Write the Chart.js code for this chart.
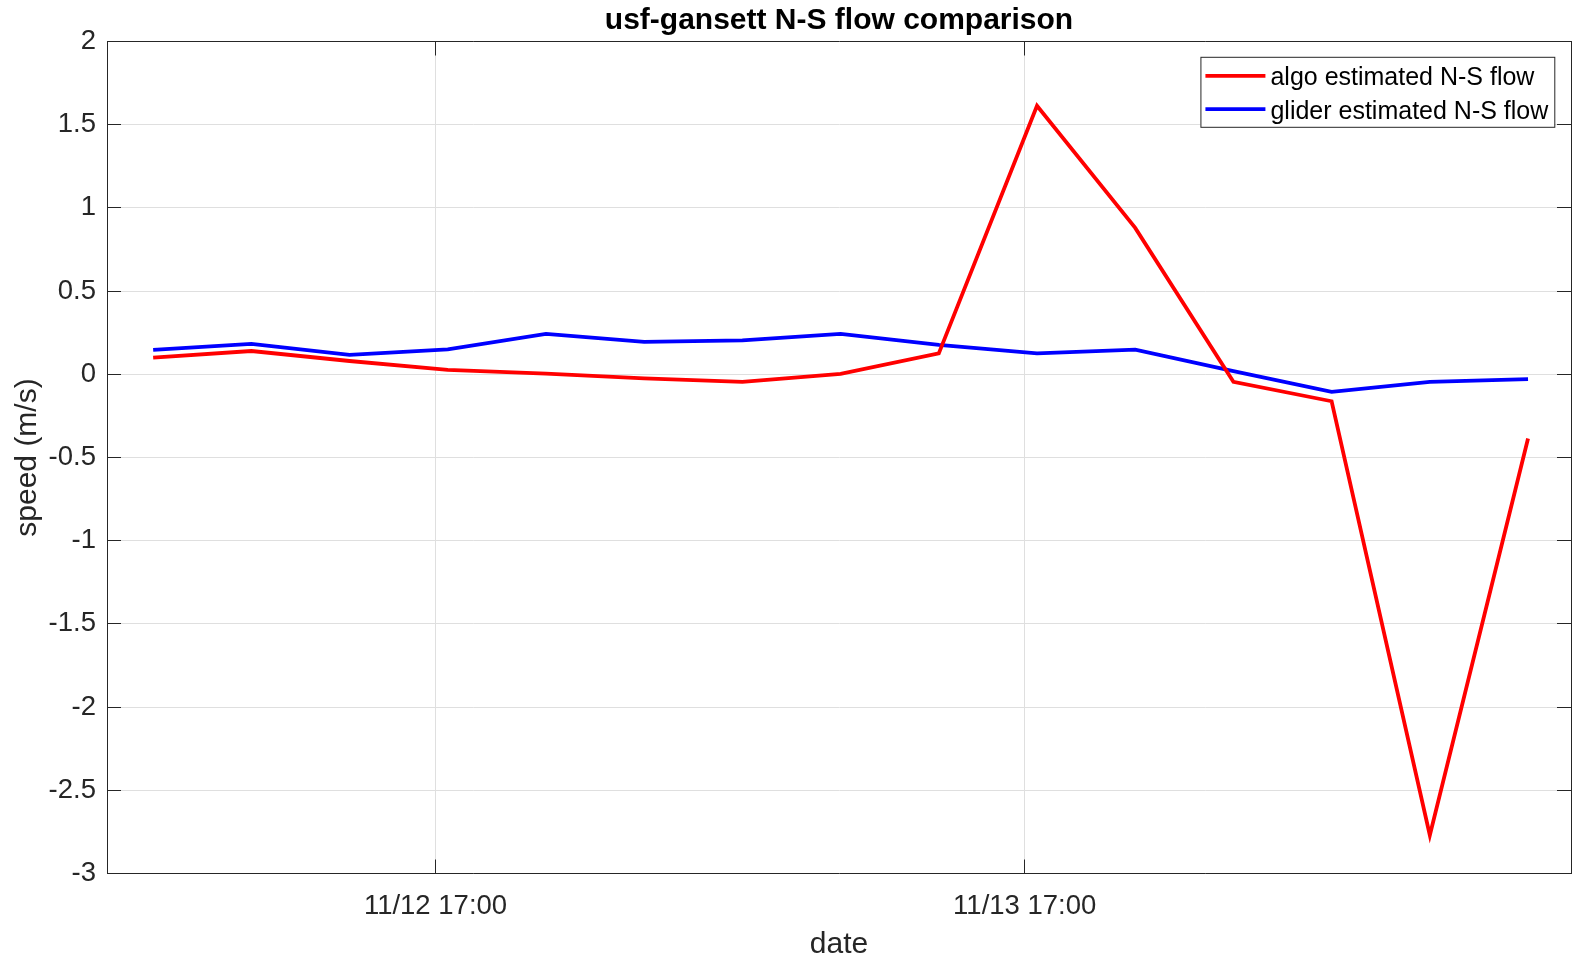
<!DOCTYPE html>
<html>
<head>
<meta charset="utf-8">
<script src="https://cdn.jsdelivr.net/npm/chart.js@4.4.1/dist/chart.umd.min.js"></script>
<style>
    html, body { margin: 0; padding: 0; background: #ffffff; }
    #plot-pane { width: 1586px; height: 963px; }
</style>
</head>
<body>
<div id="plot-pane"><canvas id="plot-canvas"></canvas></div>
<script>
"use strict";

// sample times (4 h apart)
const sampleTimes = ['11/12 05:30', '11/12 09:30', '11/12 13:30', '11/12 17:30', '11/12 21:30',
    '11/13 01:30', '11/13 05:30', '11/13 09:30', '11/13 13:30', '11/13 17:30',
    '11/13 21:30', '11/14 01:30', '11/14 05:30', '11/14 09:30', '11/14 13:30'];
const algoNS = [0.10, 0.14, 0.08, 0.026, 0.004, -0.024, -0.046, 0.002, 0.126, 1.614,
    0.88, -0.045, -0.162, -2.77, -0.386];
const gliderNS = [0.147, 0.183, 0.117, 0.150, 0.243, 0.195, 0.204, 0.243, 0.177, 0.126,
    0.148, 0.019, -0.106, -0.045, -0.029];
const seriesNames = ['algo estimated N-S flow', 'glider estimated N-S flow'];
const xTickLabels = ['11/12 17:00', '11/13 17:00'];
const yTicks = [-3, -2.5, -2, -1.5, -1, -0.5, 0, 0.5, 1, 1.5, 2];

// hours since 11/12 00:00
function toHours(s) {
    let parts = s.split(' ');
    let day = parseInt(parts[0].split('/')[1]);
    let hm = parts[1].split(':');
    return (day - 12) * 24 + parseInt(hm[0]) + parseInt(hm[1]) / 60;
}

const sampleHours = sampleTimes.map(toHours);
const xTickHours = xTickLabels.map(toHours);
const xMin = 3.62;
const xMax = 63.25;

const fontFamily = '"Liberation Sans", Arial, sans-serif';
const axisColor = '#262626';
const gridColor = '#dfdfdf';

// MATLAB-style legend box inside the axes
const boxLegend = {
    id: 'boxLegend',
    afterDraw(chart) {
        const ctx = chart.ctx;
        const area = chart.chartArea;
        ctx.save();
        ctx.font = '25px ' + fontFamily;
        let textW = 0;
        chart.data.datasets.forEach(ds => {
            textW = Math.max(textW, ctx.measureText(ds.label).width);
        });
        const w = 5 + 60 + 5 + textW + 6;
        const h = 70;
        const x0 = area.right - 16.7 - w;
        const y0 = area.top + 15.3;
        ctx.fillStyle = '#ffffff';
        ctx.fillRect(x0, y0, w, h);
        ctx.strokeStyle = axisColor;
        ctx.lineWidth = 1;
        ctx.strokeRect(x0 + 0.5, y0 + 0.5, w, h);
        chart.data.datasets.forEach((ds, i) => {
            const yc = y0 + 19 + i * 33.4;
            ctx.strokeStyle = ds.borderColor;
            ctx.lineWidth = ds.borderWidth;
            ctx.beginPath();
            ctx.moveTo(x0 + 5, yc);
            ctx.lineTo(x0 + 65, yc);
            ctx.stroke();
            ctx.fillStyle = '#000000';
            ctx.textBaseline = 'middle';
            ctx.textAlign = 'left';
            ctx.fillText(ds.label, x0 + 70, yc + 2.5);
        });
        ctx.restore();
    }
};

function setXTicks(scale) {
    scale.ticks = xTickHours.map(v => ({ value: v }));
}

function setYTicks(scale) {
    scale.ticks = yTicks.map(v => ({ value: v }));
}

const plotCanvas = document.getElementById('plot-canvas');
const chart = new Chart(plotCanvas, {
    type: 'line',
    data: {
        datasets: [{
            label: seriesNames[0],
            data: sampleHours.map((h, i) => ({ x: h, y: algoNS[i] })),
            borderColor: '#ff0000',
            backgroundColor: '#ff0000',
            borderWidth: 3.8,
            pointRadius: 0,
            tension: 0,
        }, {
            label: seriesNames[1],
            data: sampleHours.map((h, i) => ({ x: h, y: gliderNS[i] })),
            borderColor: '#0000ff',
            backgroundColor: '#0000ff',
            borderWidth: 3.8,
            pointRadius: 0,
            tension: 0,
        }]
    },
    options: {
        responsive: true,
        maintainAspectRatio: false,
        animation: false,
        layout: { padding: { left: 0, right: 15, top: 0, bottom: 0 } },
        plugins: {
            legend: { display: false },
            tooltip: { enabled: false },
            title: {
                display: true,
                fullSize: false,
                text: 'usf-gansett N-S flow comparison',
                color: '#000000',
                font: { family: fontFamily, size: 30, weight: 'bold' },
                padding: { top: 2, bottom: 2.7 }
            }
        },
        scales: {
            x: {
                type: 'linear',
                position: 'bottom',
                min: xMin,
                max: xMax,
                afterBuildTicks: setXTicks,
                afterFit: (scale) => { scale.height = 89.5; },
                ticks: {
                    color: axisColor,
                    font: { family: fontFamily, size: 27.5 },
                    padding: 30,
                    maxRotation: 0,
                    autoSkip: false,
                    callback: (value) => xTickLabels[xTickHours.indexOf(value)]
                },
                grid: { color: gridColor, tickColor: axisColor, tickLength: -14, lineWidth: 1 },
                border: { color: axisColor, width: 1 },
                title: {
                    display: true,
                    text: 'date',
                    color: axisColor,
                    font: { family: fontFamily, size: 30 },
                    padding: { top: 0, bottom: 0 }
                }
            },
            x2: {
                type: 'linear',
                position: 'top',
                min: xMin,
                max: xMax,
                afterBuildTicks: setXTicks,
                afterFit: (scale) => { scale.height = 0; },
                ticks: { display: false },
                grid: { drawOnChartArea: false, tickColor: axisColor, tickLength: -14 },
                border: { color: axisColor, width: 1 }
            },
            y: {
                position: 'left',
                min: -3,
                max: 2,
                afterBuildTicks: setYTicks,
                afterFit: (scale) => { scale.width = 107; },
                ticks: {
                    color: axisColor,
                    font: { family: fontFamily, size: 27.5 },
                    padding: 25,
                    autoSkip: false,
                    callback: (value) => String(value)
                },
                grid: { color: gridColor, tickColor: axisColor, tickLength: -14, lineWidth: 1 },
                border: { color: axisColor, width: 1 },
                title: {
                    display: true,
                    text: 'speed (m/s)',
                    color: axisColor,
                    font: { family: fontFamily, size: 30 },
                    padding: { top: 10, bottom: 0 }
                }
            },
            y2: {
                position: 'right',
                min: -3,
                max: 2,
                afterBuildTicks: setYTicks,
                afterFit: (scale) => { scale.width = 0; },
                ticks: { display: false },
                grid: { drawOnChartArea: false, tickColor: axisColor, tickLength: -14 },
                border: { color: axisColor, width: 1 }
            }
        }
    },
    plugins: [boxLegend]
});
</script>
</body>
</html>
